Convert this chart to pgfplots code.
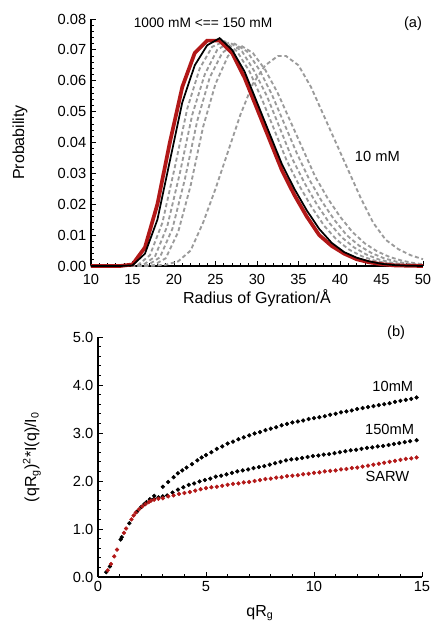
\documentclass[border=0pt]{standalone}
\usepackage{fontspec}
\setmainfont{Liberation Sans}
\usepackage{pgfplots}
\pgfplotsset{compat=1.18}
\definecolor{dred}{RGB}{178,24,24}
\definecolor{lgray}{RGB}{155,155,155}
\begin{document}
\begin{tikzpicture}
\path[use as bounding box] (0pt,0pt) rectangle (322.5pt,468.75pt);
\pgfplotsset{every axis/.append style={scale only axis, axis x line*=bottom, axis y line*=left,
  axis line style={line width=1pt,-}, tick align=inside, major tick length=4pt, minor tick length=2.2pt,
  every tick/.style={black,line width=0.6pt}, tick label style={font=\fontsize{11}{13}\selectfont},
  label style={font=\fontsize{12}{14}\selectfont}, /pgf/number format/assume math mode=true, clip=false}}
% ---------------- panel (a)
\begin{axis}[at={(68.25pt,269.25pt)}, anchor=south west, width=249pt, height=185.25pt,
  xmin=10, xmax=50, ymin=0, ymax=0.08,
  xtick={10,15,20,25,30,35,40,45,50}, minor x tick num=4,
  ytick={0,0.01,0.02,0.03,0.04,0.05,0.06,0.07,0.08}, minor y tick num=4,
  scaled y ticks=false,
  xticklabel style={yshift=-3pt},
  yticklabel style={/pgf/number format/.cd, fixed, fixed zerofill, precision=2},
  xlabel={Radius of Gyration/Å}, ylabel={Probability},
  xlabel style={at={(axis description cs:0.5,-0.13)}, anchor=center},
  ylabel style={at={(axis description cs:-0.214,0.5)}, anchor=center, rotate=0}]
\pgfplotsset{gr/.style={lgray, line width=1.4pt, dash pattern=on 3pt off 2pt}}
\addplot[gr] coordinates {(10,0) (14.1,0) (15.6,0.0002) (17.1,0.0035) (18.6,0.014) (20.1,0.032) (21.6,0.051) (23.1,0.064) (24.6,0.071) (26.1,0.0728) (27.6,0.0695) (29.1,0.063) (30.6,0.054) (32.1,0.044) (33.6,0.034) (35.1,0.026) (36.6,0.019) (38.1,0.013) (39.6,0.0085) (41.1,0.0053) (42.6,0.0032) (44.1,0.0018) (45.6,0.0009) (47.1,0.0004) (48.6,0.0001) (50,0)};
\addplot[gr] coordinates {(10,0) (14.7,0) (16.2,0.0002) (17.7,0.003) (19.2,0.013) (20.7,0.030) (22.2,0.049) (23.7,0.062) (25.2,0.070) (26.7,0.0725) (28.2,0.0695) (29.7,0.063) (31.2,0.055) (32.7,0.045) (34.2,0.035) (35.7,0.027) (37.2,0.020) (38.7,0.014) (40.2,0.0093) (41.7,0.006) (43.2,0.0037) (44.7,0.0021) (46.2,0.0011) (47.7,0.0005) (49.2,0.0002) (50,0.0001)};
\addplot[gr] coordinates {(10,0) (15.3,0) (16.8,0.0002) (18.3,0.0028) (19.8,0.012) (21.3,0.028) (22.8,0.047) (24.3,0.061) (25.8,0.069) (27.3,0.072) (28.8,0.0695) (30.3,0.0635) (31.8,0.0555) (33.3,0.046) (34.8,0.0365) (36.3,0.028) (37.8,0.021) (39.3,0.015) (40.8,0.010) (42.3,0.0066) (43.8,0.0042) (45.3,0.0025) (46.8,0.0014) (48.3,0.0007) (50,0.0003)};
\addplot[gr] coordinates {(10,0) (16,0) (17.5,0.0002) (19,0.0025) (20.5,0.011) (22,0.026) (23.5,0.045) (25,0.059) (26.5,0.068) (28,0.0715) (29.5,0.069) (31,0.0635) (32.5,0.056) (34,0.047) (35.5,0.038) (37,0.029) (38.5,0.022) (40,0.016) (41.5,0.011) (43,0.0073) (44.5,0.0047) (46,0.0029) (47.5,0.0017) (49,0.0009) (50,0.0006)};
\addplot[gr] coordinates {(10,0) (16,0) (17.5,0.0001) (19,0.0004) (20.5,0.0015) (22,0.005) (23.5,0.014) (25,0.025) (26.5,0.037) (28,0.049) (29.5,0.059) (31,0.065) (32.5,0.068) (33.5,0.068) (35,0.065) (36.5,0.058) (38,0.049) (39.5,0.040) (41,0.031) (42.5,0.022) (44,0.014) (45.5,0.0085) (47,0.0055) (48.5,0.0035) (50,0.0022)};
\addplot[dred, line width=2.8pt] coordinates {(10,0) (13.5,0) (15,0.0005) (16.5,0.006) (18,0.020) (19.5,0.040) (21,0.058) (22.5,0.069) (24,0.073) (25.5,0.073) (27,0.069) (28.5,0.061) (30,0.051) (31.5,0.041) (33,0.031) (34.5,0.023) (36,0.016) (37.5,0.010) (39,0.0065) (40.5,0.004) (42,0.0022) (43.5,0.0012) (45,0.0006) (46.5,0.0002) (48,0.0001) (50,0)};
\addplot[black, line width=1.3pt] coordinates {(10,0) (13.5,0) (15,0.0002) (16.5,0.004) (18,0.015) (19.5,0.034) (21,0.053) (22.5,0.065) (24,0.0715) (25.5,0.0738) (27,0.070) (28.5,0.063) (30,0.053) (31.5,0.043) (33,0.033) (34.5,0.025) (36,0.018) (37.5,0.012) (39,0.0075) (40.5,0.0045) (42,0.0027) (43.5,0.0015) (45,0.0007) (46.5,0.0003) (48,0.0001) (50,0)};
\node[font=\fontsize{10.3}{12}\selectfont] at (axis cs:23.5,0.0787) {1000 mM <== 150 mM};
\node[font=\fontsize{11}{13}\selectfont] at (axis cs:48.8,0.0785) {(a)};
\node[font=\fontsize{11}{13}\selectfont] at (axis cs:44.5,0.0356) {10 mM};
\end{axis}
% ---------------- panel (b)
\begin{axis}[at={(73.5pt,36pt)}, anchor=south west, width=243pt, height=180pt,
  xmin=0, xmax=15, ymin=0, ymax=5,
  xtick={0,5,10,15}, minor x tick num=4,
  ytick={0,1,2,3,4,5}, minor y tick num=4,
  yticklabel style={/pgf/number format/.cd, fixed, fixed zerofill, precision=1},
  xlabel={qR\textsubscript{g}}, ylabel={(qR\textsubscript{g})\textsuperscript{2}*I(q)/I\textsubscript{0}},
  xlabel style={at={(axis description cs:0.5,-0.15)}, anchor=center},
  ylabel style={at={(axis description cs:-0.204,0.5)}, anchor=center, rotate=0}]
\addplot[only marks, mark=*, mark size=1.4pt, black] coordinates {(0.38,0.10) (0.55,0.22) (1.05,0.78) (1.1,0.83) (1.45,1.12) (1.8,1.36) (2.0,1.46) (2.15,1.52) (2.25,1.56) (2.4,1.62) (2.6,1.69) (3.0,1.88) (3.25,1.98) (3.5,2.08) (3.7,2.16) (3.9,2.22) (4.1,2.28) (4.35,2.35) (4.6,2.43) (4.8,2.49) (5.0,2.54) (5.25,2.60) (5.5,2.67) (5.75,2.72) (6.0,2.78) (6.25,2.82) (6.5,2.87) (6.75,2.91) (7.0,2.95) (7.25,2.99) (7.5,3.02) (7.75,3.06) (8.0,3.09) (8.25,3.12) (8.5,3.16) (8.75,3.19) (9.0,3.22) (9.25,3.24) (9.5,3.26) (9.75,3.29) (10.0,3.31) (10.25,3.33) (10.5,3.35) (10.75,3.38) (11.0,3.40) (11.25,3.43) (11.5,3.45) (11.75,3.47) (12.0,3.50) (12.25,3.52) (12.5,3.54) (12.75,3.56) (13.0,3.58) (13.25,3.60) (13.5,3.62) (13.75,3.65) (14.0,3.67) (14.25,3.69) (14.5,3.71) (14.75,3.74)};
\addplot[only marks, mark=*, mark size=1.4pt, black] coordinates {(2.45,1.60) (2.6,1.63) (2.8,1.66) (3.0,1.68) (3.2,1.70) (3.45,1.76) (3.7,1.82) (3.95,1.87) (4.2,1.92) (4.45,1.95) (4.7,1.99) (4.95,2.02) (5.2,2.05) (5.45,2.09) (5.7,2.11) (5.95,2.14) (6.2,2.17) (6.45,2.20) (6.7,2.22) (6.95,2.24) (7.2,2.27) (7.45,2.29) (7.7,2.31) (7.95,2.34) (8.2,2.37) (8.45,2.40) (8.7,2.43) (8.95,2.45) (9.2,2.46) (9.45,2.48) (9.7,2.50) (9.95,2.52) (10.2,2.53) (10.45,2.55) (10.7,2.56) (10.95,2.58) (11.2,2.60) (11.45,2.62) (11.7,2.64) (11.95,2.65) (12.2,2.67) (12.45,2.69) (12.7,2.70) (12.95,2.72) (13.2,2.73) (13.45,2.75) (13.7,2.77) (13.95,2.79) (14.2,2.81) (14.45,2.83) (14.75,2.85)};
\addplot[only marks, mark=*, mark size=1.4pt, dred] coordinates {(0.45,0.14) (0.6,0.27) (0.75,0.43) (0.88,0.57) (1.2,0.92) (1.3,1.01) (1.55,1.20) (1.65,1.28) (1.75,1.34) (1.9,1.41) (2.05,1.47) (2.2,1.52) (2.35,1.56) (2.45,1.59) (2.6,1.61) (2.8,1.63) (3.0,1.64) (3.25,1.68) (3.5,1.70) (3.75,1.73) (4.0,1.75) (4.25,1.77) (4.5,1.80) (4.75,1.83) (5.0,1.85) (5.25,1.87) (5.5,1.88) (5.75,1.90) (6.0,1.92) (6.25,1.94) (6.5,1.95) (6.75,1.97) (7.0,1.98) (7.25,2.00) (7.5,2.02) (7.75,2.04) (8.0,2.05) (8.25,2.07) (8.5,2.08) (8.75,2.10) (9.0,2.11) (9.25,2.12) (9.5,2.14) (9.75,2.15) (10.0,2.17) (10.25,2.18) (10.5,2.20) (10.75,2.21) (11.0,2.22) (11.25,2.24) (11.5,2.25) (11.75,2.27) (12.0,2.28) (12.25,2.30) (12.5,2.32) (12.75,2.34) (13.0,2.36) (13.25,2.38) (13.5,2.40) (13.75,2.42) (14.0,2.44) (14.25,2.46) (14.5,2.47) (14.75,2.49)};
\node[font=\fontsize{11}{13}\selectfont] at (axis cs:13.8,5.1) {(b)};
\node[font=\fontsize{11}{13}\selectfont] at (axis cs:13.65,3.98) {10mM};
\node[font=\fontsize{11}{13}\selectfont] at (axis cs:13.5,3.08) {150mM};
\node[font=\fontsize{11}{13}\selectfont] at (axis cs:13.4,2.1) {SARW};
\end{axis}
\end{tikzpicture}
\end{document}
